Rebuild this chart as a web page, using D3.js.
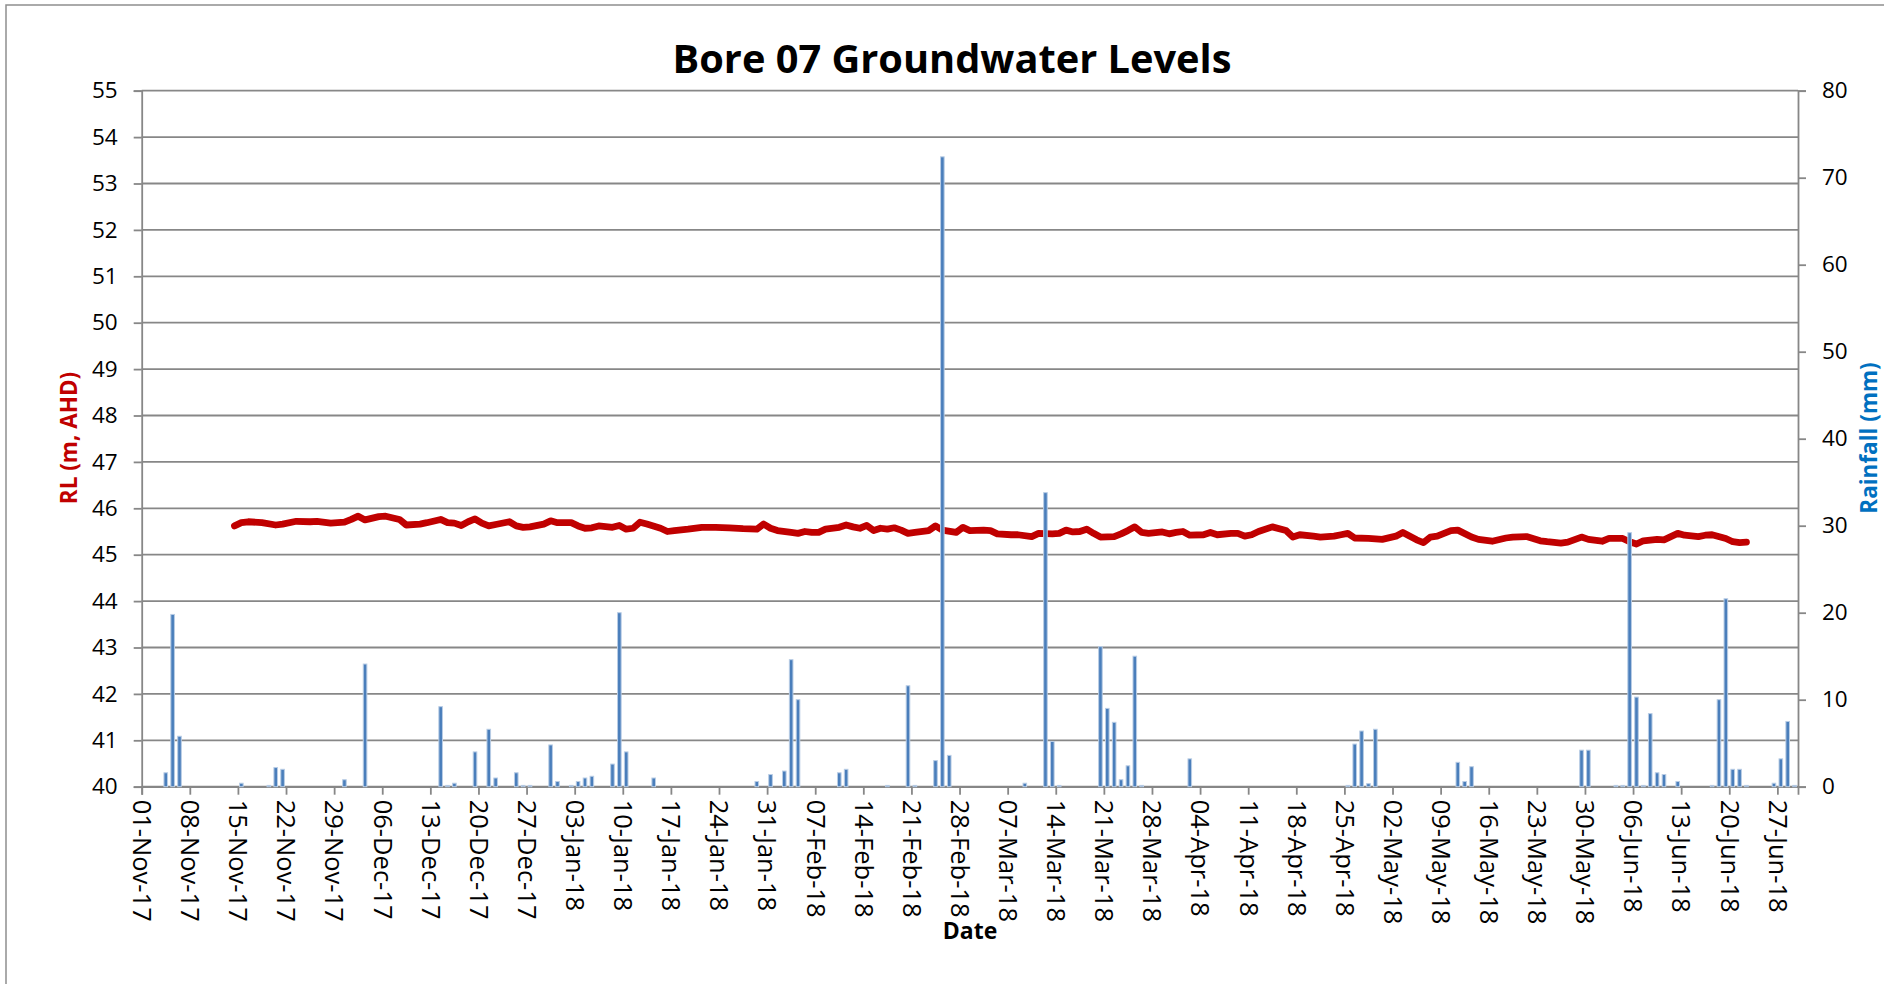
<!DOCTYPE html>
<html>
<head>
<meta charset="utf-8">
<script src="https://cdn.jsdelivr.net/npm/d3@7"></script>
<style>
  html, body { margin: 0; padding: 0; background: #fff; }
  svg text { font-family: "Open Sans", "Noto Sans", sans-serif; }
</style>
</head>
<body>
<svg id="chart" width="1884" height="984"></svg>
<script>
// groundwater level (m AHD)
const gwDates = [
  "2017-11-14","2017-11-15","2017-11-16","2017-11-18","2017-11-20","2017-11-21","2017-11-23","2017-11-25","2017-11-26","2017-11-28","2017-11-30",
  "2017-12-01","2017-12-02","2017-12-03","2017-12-05","2017-12-06","2017-12-08","2017-12-09","2017-12-11","2017-12-12","2017-12-14","2017-12-15",
  "2017-12-16","2017-12-17","2017-12-18","2017-12-19","2017-12-20","2017-12-21","2017-12-22","2017-12-24","2017-12-25","2017-12-26","2017-12-27",
  "2017-12-29","2017-12-30","2017-12-31",
  "2018-01-02","2018-01-03","2018-01-04","2018-01-05","2018-01-06","2018-01-08","2018-01-09","2018-01-10","2018-01-11","2018-01-12","2018-01-13",
  "2018-01-15","2018-01-16","2018-01-17","2018-01-19","2018-01-21","2018-01-23","2018-01-25","2018-01-27","2018-01-29","2018-01-30","2018-01-31",
  "2018-02-01","2018-02-03","2018-02-04","2018-02-05","2018-02-06","2018-02-07","2018-02-08","2018-02-10","2018-02-11","2018-02-12","2018-02-13",
  "2018-02-14","2018-02-15","2018-02-16","2018-02-17","2018-02-18","2018-02-19","2018-02-20","2018-02-21","2018-02-23","2018-02-24","2018-02-25",
  "2018-02-27","2018-02-28",
  "2018-03-01","2018-03-03","2018-03-04","2018-03-05","2018-03-07","2018-03-08","2018-03-10","2018-03-11","2018-03-13","2018-03-14","2018-03-15",
  "2018-03-16","2018-03-17","2018-03-18","2018-03-19","2018-03-20","2018-03-22","2018-03-23","2018-03-24","2018-03-25","2018-03-26","2018-03-27",
  "2018-03-29","2018-03-30","2018-03-31",
  "2018-04-01","2018-04-02","2018-04-04","2018-04-05","2018-04-06","2018-04-08","2018-04-09","2018-04-10","2018-04-11","2018-04-12","2018-04-14",
  "2018-04-16","2018-04-17","2018-04-18","2018-04-20","2018-04-21","2018-04-23","2018-04-24","2018-04-25","2018-04-26","2018-04-28","2018-04-30",
  "2018-05-02","2018-05-03","2018-05-05","2018-05-06","2018-05-07","2018-05-08","2018-05-10","2018-05-11","2018-05-13","2018-05-14","2018-05-16",
  "2018-05-18","2018-05-19","2018-05-21","2018-05-23","2018-05-24","2018-05-26","2018-05-27","2018-05-29","2018-05-30",
  "2018-06-01","2018-06-02","2018-06-04","2018-06-05","2018-06-06","2018-06-07","2018-06-09","2018-06-10","2018-06-12","2018-06-13","2018-06-15",
  "2018-06-16","2018-06-17","2018-06-19","2018-06-20","2018-06-21","2018-06-22"
];
const gwLevels = [
  45.62,45.69,45.71,45.69,45.64,45.66,45.72,45.71,45.72,45.68,45.70,
  45.76,45.83,45.75,45.82,45.83,45.76,45.64,45.66,45.69,45.76,45.69,
  45.68,45.63,45.71,45.77,45.68,45.62,45.65,45.71,45.62,45.59,45.60,
  45.66,45.73,45.69,
  45.69,45.62,45.57,45.58,45.62,45.59,45.63,45.55,45.57,45.70,45.66,
  45.57,45.50,45.52,45.55,45.59,45.59,45.58,45.56,45.55,45.66,45.57,
  45.52,45.48,45.46,45.50,45.48,45.48,45.55,45.59,45.64,45.60,45.57,
  45.63,45.52,45.57,45.55,45.58,45.53,45.46,45.48,45.52,45.62,45.53,
  45.48,45.59,
  45.52,45.53,45.52,45.45,45.43,45.43,45.39,45.46,45.45,45.46,45.53,
  45.49,45.50,45.55,45.46,45.38,45.39,45.45,45.52,45.60,45.48,45.46,
  45.49,45.45,45.48,
  45.50,45.42,45.43,45.48,45.43,45.46,45.46,45.40,45.43,45.50,45.60,
  45.52,45.38,45.43,45.40,45.38,45.40,45.43,45.46,45.36,45.35,45.33,
  45.40,45.48,45.32,45.26,45.38,45.40,45.52,45.53,45.38,45.33,45.29,
  45.36,45.38,45.39,45.30,45.28,45.25,45.27,45.38,45.33,
  45.29,45.35,45.35,45.28,45.23,45.30,45.33,45.32,45.46,45.42,45.39,
  45.42,45.43,45.35,45.28,45.26,45.27
];

// daily rainfall (mm), days with no bar left out
const rainDates = [
  "2017-11-04","2017-11-05","2017-11-06","2017-11-15","2017-11-19","2017-11-20","2017-11-21","2017-11-30",
  "2017-12-03","2017-12-14","2017-12-15","2017-12-16","2017-12-19","2017-12-21","2017-12-22","2017-12-25","2017-12-26","2017-12-27",
  "2017-12-30","2017-12-31",
  "2018-01-02","2018-01-03","2018-01-04","2018-01-05","2018-01-08","2018-01-09","2018-01-10","2018-01-14","2018-01-29","2018-01-31",
  "2018-02-02","2018-02-03","2018-02-04","2018-02-10","2018-02-11","2018-02-17","2018-02-20","2018-02-21","2018-02-24","2018-02-25","2018-02-26",
  "2018-03-09","2018-03-12","2018-03-13","2018-03-14","2018-03-20","2018-03-21","2018-03-22","2018-03-23","2018-03-24","2018-03-25","2018-03-26",
  "2018-04-02","2018-04-25","2018-04-26","2018-04-27","2018-04-28","2018-04-29",
  "2018-05-11","2018-05-12","2018-05-13","2018-05-29","2018-05-30",
  "2018-06-03","2018-06-04","2018-06-05","2018-06-06","2018-06-07","2018-06-08","2018-06-09","2018-06-10","2018-06-12",
  "2018-06-17","2018-06-18","2018-06-19","2018-06-20","2018-06-21","2018-06-22","2018-06-26","2018-06-27","2018-06-28","2018-06-29"
];
const rainMm = [
  1.6,19.8,5.8,0.4,0.15,2.2,2.0,0.8,
  14.1,9.2,0.15,0.4,4.0,6.6,1.0,1.6,0.15,0.15,
  4.8,0.6,
  0.15,0.6,1.0,1.2,2.6,20.0,4.0,1.0,0.6,1.4,
  1.8,14.6,10.0,1.6,2.0,0.15,11.6,0.15,3.0,72.4,3.6,
  0.4,33.8,5.2,0.15,16.1,9.0,7.4,0.8,2.4,15.0,0.15,
  3.2,0.15,4.9,6.4,0.35,6.6,
  2.8,0.6,2.3,4.2,4.2,
  0.15,0.15,29.2,10.3,0.15,8.4,1.6,1.4,0.6,
  0.15,10.0,21.6,2.0,2.0,0.15,0.4,3.2,7.5,0.15
];

const levelTicks = d3.range(40, 56, 1);
const rainTicks = d3.range(0, 81, 10);
const axisStart = "2017-11-01";
const axisEnd = "2018-06-30";

const chartTitle = "Bore 07 Groundwater Levels";
const leftTitle = "RL (m, AHD)";
const rightTitle = "Rainfall (mm)";
const bottomTitle = "Date";

const parse = d3.utcParse("%Y-%m-%d");
const fmt = d3.utcFormat("%d-%b-%y");
const mid = d => d3.utcHour.offset(parse(d), 12);   // values sit in the middle of their day

const plot = { left: 141.7, right: 1798, top: 90.7, bottom: 786.7 };
const gridColor = "#878787";

const svg = d3.select("#chart");

// outer chart frame
svg.append("rect")
    .attr("x", 6).attr("y", 5)
    .attr("width", 1900).attr("height", 1000)
    .attr("fill", "#fff")
    .attr("stroke", "#8e8e8e")
    .attr("stroke-width", 1.5);

const x = d3.scaleUtc()
    .domain([parse(axisStart), parse(axisEnd)])
    .range([plot.left, plot.right]);

const yLevel = d3.scaleLinear()
    .domain([40, 55])
    .range([plot.bottom, plot.top]);

const yRain = d3.scaleLinear()
    .domain([0, 80])
    .range([plot.bottom, plot.top]);

const weekTicks = d3.utcDay.range(parse(axisStart), d3.utcDay.offset(parse(axisEnd), 1), 7);

// horizontal gridlines follow the left axis
svg.append("g").selectAll("line")
    .data(levelTicks)
    .enter()
    .append("line")
    .attr("x1", plot.left).attr("x2", plot.right)
    .attr("y1", d => yLevel(d)).attr("y2", d => yLevel(d))
    .attr("stroke", gridColor)
    .attr("stroke-width", 1.8);

// left axis
const leftAxis = svg.append("g")
    .attr("transform", `translate(${plot.left},0)`)
    .call(d3.axisLeft(yLevel).tickValues(levelTicks).tickSize(8).tickPadding(16).tickFormat(d3.format("d")));

// right axis
const rightAxis = svg.append("g")
    .attr("transform", `translate(${plot.right},0)`)
    .call(d3.axisRight(yRain).tickValues(rainTicks).tickSize(8).tickPadding(16).tickFormat(d3.format("d")));

// bottom axis
const bottomAxis = svg.append("g")
    .attr("transform", `translate(0,${plot.bottom})`)
    .call(d3.axisBottom(x).tickValues(weekTicks).tickSize(8).tickFormat(fmt));

[leftAxis, rightAxis, bottomAxis].forEach(a => {
    a.select(".domain").attr("stroke", gridColor).attr("stroke-width", 1.8);
    a.selectAll(".tick line").attr("stroke", gridColor).attr("stroke-width", 1.8);
    a.selectAll("text")
        .attr("fill", "#000")
        .style("font-family", "'Open Sans', sans-serif")
        .style("font-size", "22.5px");
});

bottomAxis.selectAll("text")
    .attr("transform", "rotate(90)")
    .attr("x", 13)
    .attr("y", 0)
    .attr("dy", "0.36em")
    .style("text-anchor", "start")
    .style("font-size", "25.5px");

// groundwater line
const gw = gwDates.map((d, i) => ({ date: mid(d), value: gwLevels[i] }));
svg.append("path")
    .datum(gw)
    .attr("fill", "none")
    .attr("stroke", "#C00000")
    .attr("stroke-width", 6.8)
    .attr("stroke-linejoin", "round")
    .attr("stroke-linecap", "round")
    .attr("d", d3.line().x(d => x(d.date)).y(d => yLevel(d.value)));

// rainfall bars (secondary axis, drawn on top)
const rain = rainDates.map((d, i) => ({ date: mid(d), value: rainMm[i] }));
const barW = 3.6;
svg.append("g").selectAll("rect")
    .data(rain)
    .enter()
    .append("rect")
    .attr("x", d => x(d.date) - barW / 2)
    .attr("y", d => yRain(d.value))
    .attr("width", barW)
    .attr("height", d => plot.bottom - yRain(d.value))
    .attr("fill", "#4A7EBB")
    .attr("stroke", "#B9CDE5")
    .attr("stroke-width", 1);

// shrink or grow a text so it spans a given width
function fitWidth(sel, target) {
    const len = sel.node().getComputedTextLength();
    const size = parseFloat(sel.style("font-size"));
    sel.style("font-size", (size * target / len) + "px");
}

const title = svg.append("text")
    .attr("x", 952).attr("y", 73)
    .attr("text-anchor", "middle")
    .style("font-size", "40px")
    .style("font-weight", "bold")
    .text(chartTitle);
fitWidth(title, 559);

svg.append("text")
    .attr("transform", "translate(77,438) rotate(-90)")
    .attr("text-anchor", "middle")
    .attr("fill", "#C00000")
    .style("font-size", "22.5px")
    .style("font-weight", "bold")
    .text(leftTitle);

svg.append("text")
    .attr("transform", "translate(1877,438) rotate(-90)")
    .attr("text-anchor", "middle")
    .attr("fill", "#0070C0")
    .style("font-size", "22.5px")
    .style("font-weight", "bold")
    .text(rightTitle);

svg.append("text")
    .attr("x", 970).attr("y", 939)
    .attr("text-anchor", "middle")
    .style("font-size", "23px")
    .style("font-weight", "bold")
    .text(bottomTitle);
</script>
</body>
</html>
